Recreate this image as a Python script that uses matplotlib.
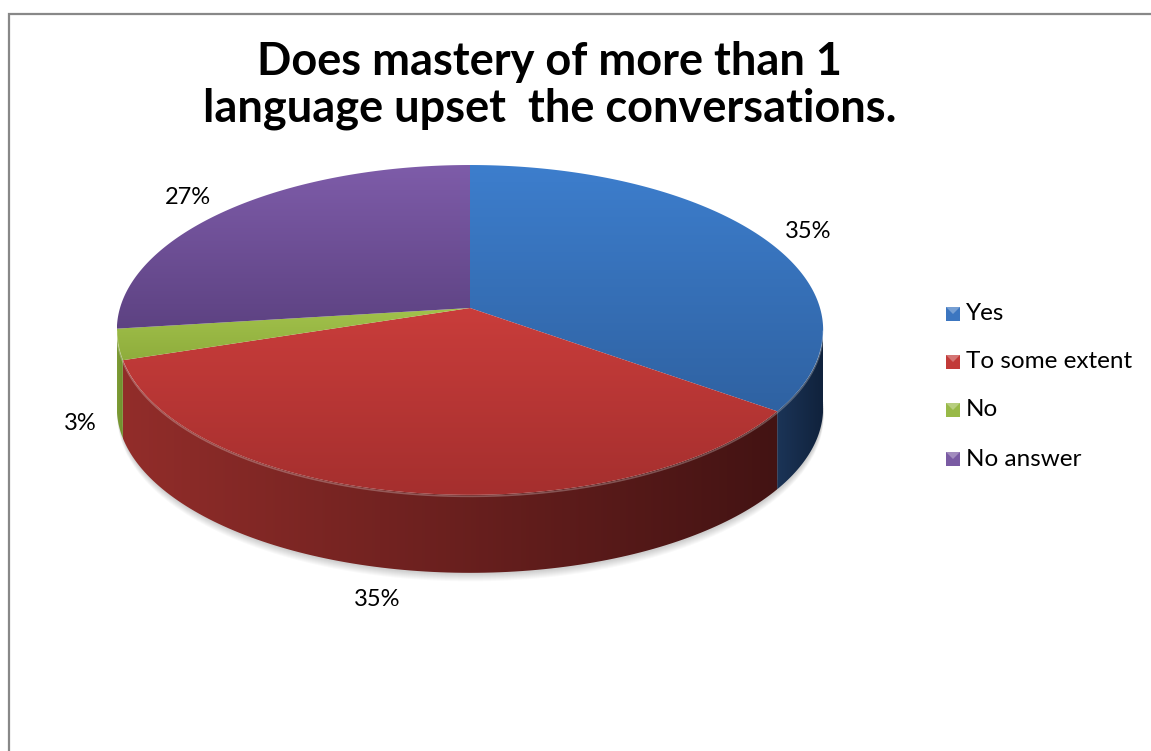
import numpy as np
import matplotlib
matplotlib.use('Agg')
import matplotlib.pyplot as plt
from matplotlib.patches import Polygon, Rectangle
from matplotlib.colors import to_rgb

plt.rcParams['font.family'] = ['Lato', 'DejaVu Sans']

# Survey answers (percent of respondents)
categories = ['Yes', 'To some extent', 'No', 'No answer']
percent = [35, 35, 3, 27]
title_lines = ['Does mastery of more than 1', 'language upset  the conversations.']

# top face (light, dark) and rim (left, right) colours per slice
top_colors = [('#3d7ecd', '#2f62a2'), ('#c93d3b', '#a52f2e'),
              ('#a2c24c', '#8fad3c'), ('#7e5ca9', '#5d4282')]
rim_colors = [('#1b3457', '#10223c'), ('#922d2a', '#431313'),
              ('#7f9d36', '#6c8b2b'), ('#4a3366', '#3c2954')]
legend_colors = ['#3c76c0', '#c23a38', '#98b948', '#7a5ba3']

# label anchor points in pixel space
label_xy = [(808, 232), (377, 600), (80, 423), (188, 198)]

# pie geometry (pixels)
CX, CY = 470, 308
A, B = 350, 162
K = 0.133
DEPTH = 78

W, H = 1151, 751
fig = plt.figure(figsize=(W / 100, H / 100), dpi=100)
ax = fig.add_axes([0, 0, 1, 1])


def proj(t):
    s = 1.0 / (1.0 + K * np.sin(t))
    return CX + A * np.cos(t) * s, CY - B * np.sin(t) * s


def gradient_fill(pts, c0, c1, horizontal=False, z=2):
    pts = np.asarray(pts)
    patch = Polygon(pts, closed=True, facecolor='none', edgecolor='none')
    ax.add_patch(patch)
    x0, y0 = pts.min(axis=0)
    x1, y1 = pts.max(axis=0)
    n = 256
    a = np.array(to_rgb(c0))
    b = np.array(to_rgb(c1))
    f = np.linspace(0, 1, n)[:, None]
    ramp = a * (1 - f) + b * f
    if horizontal:
        img = np.repeat(ramp[None, :, :], 2, axis=0)
    else:
        img = np.repeat(ramp[:, None, :], 2, axis=1)
    im = ax.imshow(img, extent=(x0, x1, y1, y0), origin='upper',
                   aspect='auto', interpolation='bilinear', zorder=z)
    im.set_clip_path(patch)


# slice angles, clockwise from 12 o'clock
bounds = 90 - 360 * np.concatenate([[0], np.cumsum(percent)]) / 100.0
sil = np.degrees(np.arcsin(K))   # silhouette extremes of the tilted disc
vis_lo, vis_hi = -180 + sil, -sil

# soft drop shadow under the rim
ts = np.radians(np.linspace(vis_lo, vis_hi, 200))
bx, by = proj(ts)
for i in range(1, 9):
    ax.fill_between(bx, by + DEPTH - 10, by + DEPTH + i, color='#000000',
                    alpha=0.025, lw=0, zorder=1)

# rims (front side) first
for i in range(len(percent)):
    t1, t2 = bounds[i], bounds[i + 1]
    lo, hi = max(min(t1, t2), vis_lo), min(max(t1, t2), vis_hi)
    if hi <= lo:
        continue
    t = np.radians(np.linspace(lo, hi, 120))
    x, y = proj(t)
    pts = np.vstack([np.column_stack([x, y]),
                     np.column_stack([x[::-1], y[::-1] + DEPTH])])
    gradient_fill(pts, rim_colors[i][0], rim_colors[i][1], horizontal=True, z=2)

# top faces
for i in range(len(percent)):
    t = np.radians(np.linspace(bounds[i], bounds[i + 1], 200))
    x, y = proj(t)
    pts = np.vstack([[CX, CY], np.column_stack([x, y])])
    gradient_fill(pts, top_colors[i][0], top_colors[i][1], z=3)

# light bevel along the front edge of the top face
t = np.radians(np.linspace(vis_lo, vis_hi, 200))
x, y = proj(t)
ax.plot(x, y + 1.5, color='white', alpha=0.25, lw=1.2, zorder=4)

# value labels
for v, (lx, ly) in zip(percent, label_xy):
    ax.text(lx, ly, f'{v}%', fontsize=17, ha='center', va='center',
            color='#000000', zorder=5)

# title, two centred lines
for line, base in zip(title_lines, [75, 122]):
    ax.text(550, base, line, fontsize=32.5, fontweight='bold',
            ha='center', va='baseline', zorder=5)

# legend
leg_y = [314, 362, 410, 459]
for name, col, ly in zip(categories, legend_colors, leg_y):
    ax.add_patch(Rectangle((946, ly - 7), 14, 14, facecolor=col,
                           edgecolor='none', zorder=5))
    ax.add_patch(Polygon([[946, ly - 7], [960, ly - 7], [953, ly]], closed=True,
                         facecolor='white', alpha=0.3, edgecolor='none', zorder=6))
    ax.text(966, ly, name, fontsize=17.5, ha='left', va='center', zorder=5)

# chart frame
ax.plot([9, 9, W + 5], [H + 5, 14, 14], color='#888888', lw=1.6,
        solid_joinstyle='miter', zorder=6)

ax.set_xlim(0, W)
ax.set_ylim(H, 0)
ax.axis('off')
fig.savefig('out.png', dpi=100, facecolor='white')
